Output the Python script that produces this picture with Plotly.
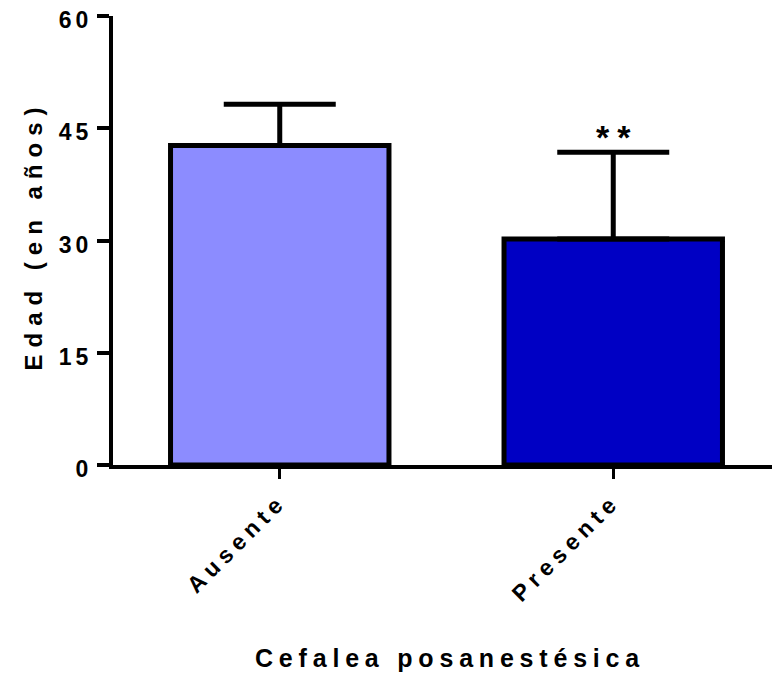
import plotly.graph_objects as go

categories = ["Ausente", "Presente"]
means = [42.7, 30.2]
sd_upper = [5.5, 11.6]
bar_colors = ["#8C8CFF", "#0000C4"]
y_ticks = [0, 15, 30, 45, 60]
y_tick_labels = ["0", "15", "30", "45", "60"]
x_title = "Cefalea posanestésica"
y_title = "Edad (en años)"
significance = "**"


def spaced(t, px=4):
    return f'<span style="letter-spacing:{px}px">{t}</span>'


FONT = "Liberation Sans, Arial, sans-serif"

fig = go.Figure()
fig.add_trace(go.Bar(
    x=categories,
    y=means,
    width=0.655,
    marker=dict(color=bar_colors, line=dict(color="black", width=5)),
    error_y=dict(type="data", symmetric=False, array=sd_upper,
                 arrayminus=[0, 0], color="black", thickness=5, width=56),
    showlegend=False,
))

fig.add_annotation(
    x=categories[1], y=means[1] + sd_upper[1], xref="x", yref="y",
    text=spaced(significance, 8), showarrow=False, yanchor="bottom", yshift=-6,
    xshift=4,
    font=dict(family=FONT, size=34, color="black", weight="bold"),
)
fig.add_annotation(
    x=0.5, y=-0.4298, xref="paper", yref="paper",
    text=spaced(x_title, 5.8), showarrow=False, xanchor="center", yanchor="middle",
    xshift=3,
    font=dict(family=FONT, size=25, color="black", weight="bold"),
)
fig.add_annotation(
    x=-0.1244, y=0.5, xref="paper", yref="paper",
    text=spaced(y_title, 7), showarrow=False, textangle=-90,
    xanchor="center", yanchor="middle", yshift=5, xshift=3,
    font=dict(family=FONT, size=24, color="black", weight="bold"),
)

fig.update_layout(
    width=780, height=675,
    margin=dict(l=105, r=8, t=8, b=218),
    plot_bgcolor="white", paper_bgcolor="white",
    font=dict(family=FONT, color="black", weight="bold"),
)
fig.update_xaxes(
    range=[-0.5, 1.5], showline=True, linewidth=4, linecolor="black",
    ticks="outside", ticklen=10, tickwidth=3, tickcolor="black",
    tickvals=categories, ticktext=[spaced(c, 5.5) for c in categories],
    tickangle=-45, tickfont=dict(family=FONT, size=23, weight="bold"),
    showgrid=False, zeroline=False, automargin=False,
    ticklabeloverflow="allow",
)
fig.update_yaxes(
    range=[0, 60], showline=True, linewidth=4, linecolor="black",
    ticks="outside", ticklen=12, tickwidth=4, tickcolor="black",
    tickvals=y_ticks, ticktext=[spaced(t, 4) for t in y_tick_labels],
    tickfont=dict(family=FONT, size=23, weight="bold"),
    showgrid=False, zeroline=False, automargin=False,
    ticklabeloverflow="allow", ticklabelshift=4,
)

fig.write_html("out.html")
